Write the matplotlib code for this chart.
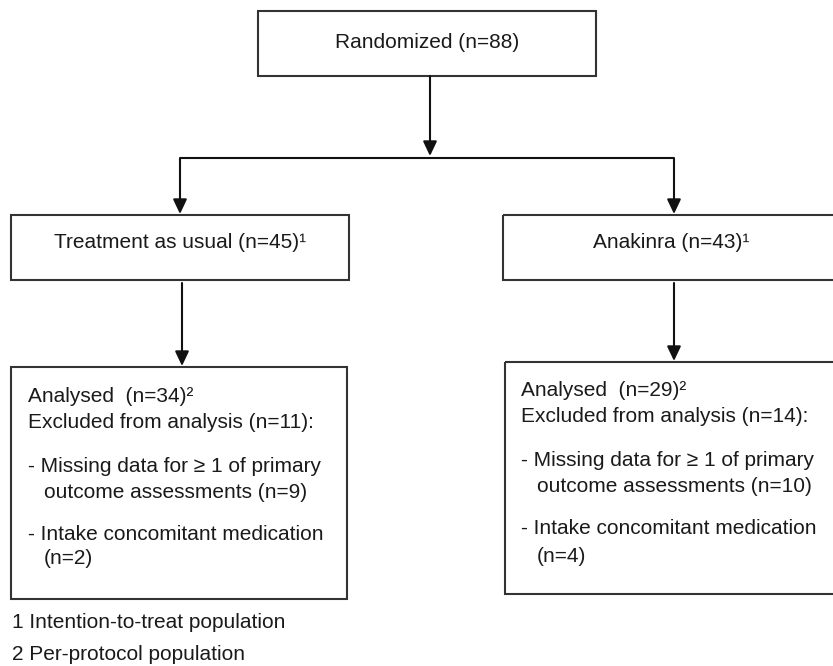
import matplotlib
matplotlib.use("Agg")
import matplotlib.pyplot as plt
from matplotlib.patches import Rectangle

plt.rcParams['font.family'] = ['Liberation Sans', 'DejaVu Sans']

# ---- data ----
n_randomized = 88
arm_names = ["Treatment as usual", "Anakinra"]
arm_n = [45, 43]
analysed_n = [34, 29]
excluded_n = [11, 14]
missing_n = [9, 10]
medication_n = [2, 4]
footnotes = ["1 Intention-to-treat population", "2 Per-protocol population"]

W, H = 833, 666
fig = plt.figure(figsize=(W / 100, H / 100), dpi=100)
ax = fig.add_axes([0, 0, 1, 1])
ax.set_xlim(0, W)
ax.set_ylim(H, 0)
ax.axis('off')

LC = '#333333'
AC = '#111111'
TC = '#1a1a1a'
FS = 15
LW = 1.5


def box(x0, y0, x1, y1):
    ax.add_patch(Rectangle((x0, y0), x1 - x0, y1 - y0, fill=False,
                           edgecolor=LC, linewidth=LW))


def arrow(x, y0, y1):
    ax.annotate('', xy=(x, y1), xytext=(x, y0),
                arrowprops=dict(arrowstyle='-|>,head_length=0.55,head_width=0.26',
                                color=AC, lw=LW,
                                mutation_scale=16, shrinkA=0, shrinkB=0))


def line(xs, ys):
    ax.plot(xs, ys, color=AC, lw=LW, solid_capstyle='butt')


# top box
box(258, 11, 596, 76)
ax.text(427, 42, f"Randomized (n={n_randomized})", fontsize=FS, color=TC,
        ha='center', va='center')
arrow(430, 76, 156)
line([180, 674], [158, 158])

# arm boxes
arm_cx = [180, 674]
arm_box = [(11, 349), (503, 840)]
for i in range(2):
    arrow(arm_cx[i], 158, 214)
    x0, x1 = arm_box[i]
    box(x0, 215, x1, 280)
text_cx = [180, 671]
for i in range(2):
    ax.text(text_cx[i], 243, f"{arm_names[i]} (n={arm_n[i]})\u00b9", fontsize=FS,
            color=TC, ha='center', va='center')

# analysis boxes
arrow(182, 283, 366)
arrow(674, 283, 361)
box(11, 367, 347, 599)
box(505, 362, 840, 594)

tx = [28, 521]
ind = [44, 537]
ys = [[397, 423, 467, 493, 535, 559], [390, 417, 460, 486, 528, 557]]
for i in range(2):
    y = ys[i]
    ax.text(tx[i], y[0], f"Analysed  (n={analysed_n[i]})\u00b2", fontsize=FS, color=TC, va='center')
    ax.text(tx[i], y[1], f"Excluded from analysis (n={excluded_n[i]}):", fontsize=FS, color=TC, va='center')
    ax.text(tx[i], y[2], "- Missing data for \u2265 1 of primary", fontsize=FS, color=TC, va='center')
    ax.text(ind[i], y[3], f"outcome assessments (n={missing_n[i]})", fontsize=FS, color=TC, va='center')
    ax.text(tx[i], y[4], "- Intake concomitant medication", fontsize=FS, color=TC, va='center')
    ax.text(ind[i], y[5], f"(n={medication_n[i]})", fontsize=FS, color=TC, va='center')

ax.text(12, 623, footnotes[0], fontsize=FS, color=TC, va='center')
ax.text(12, 655, footnotes[1], fontsize=FS, color=TC, va='center')

fig.savefig("out.png", dpi=100)
